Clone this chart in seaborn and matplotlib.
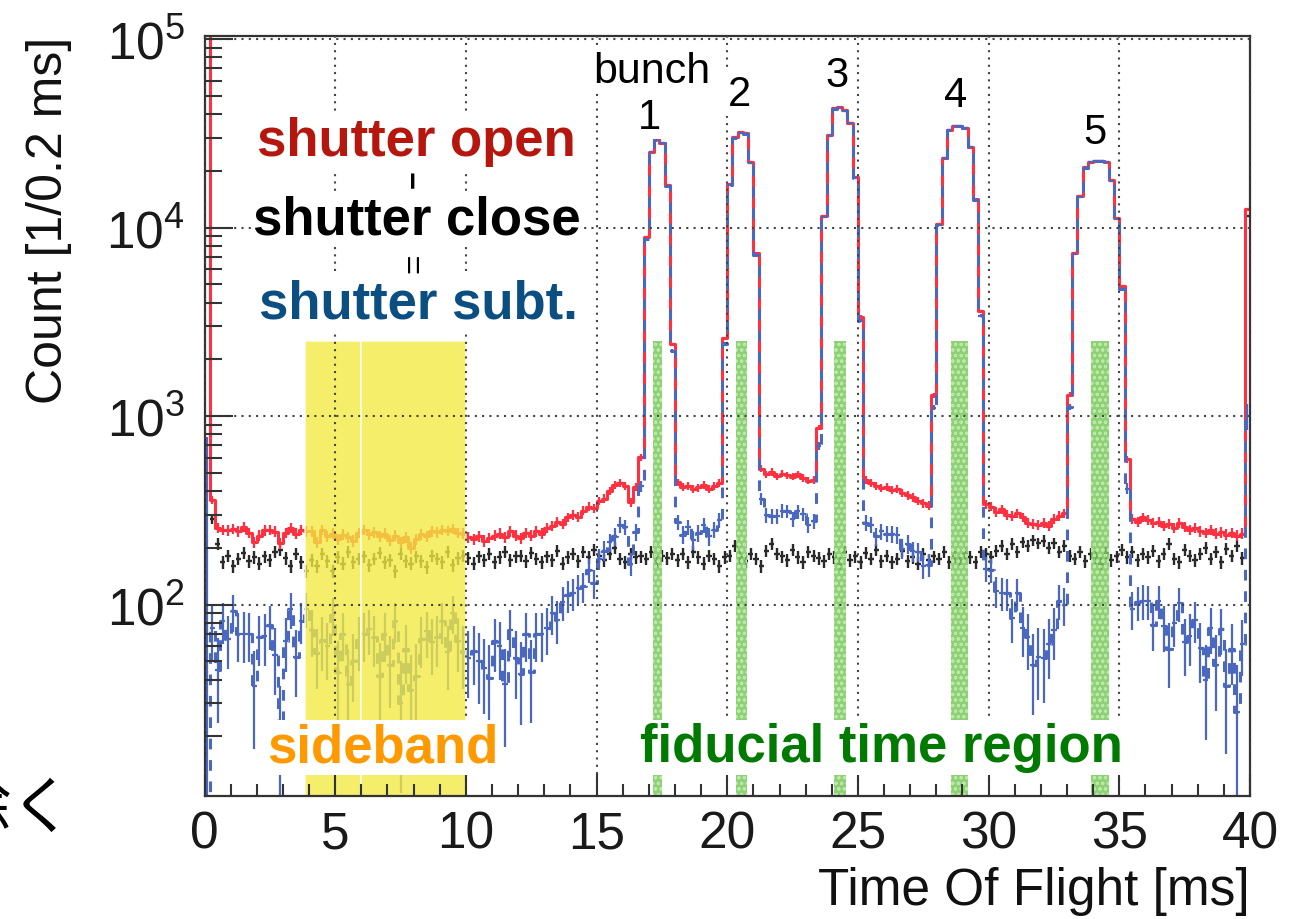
import numpy as np
import pandas as pd
import matplotlib
matplotlib.use("Agg")
import matplotlib.pyplot as plt
from matplotlib.patches import Rectangle
from matplotlib.ticker import FixedLocator, MultipleLocator, LogFormatterSciNotation, NullFormatter
import seaborn as sns

# -----------------------
# data: counts per 0.2 ms bin (one row = 2 ms)
# -----------------------
bin_width = 0.2

shutter_open = [
    300000, 360, 255, 250, 248, 252, 245, 258, 240, 215,
    232, 248, 250, 244, 212, 240, 255, 238, 250, 245,
    245, 215, 250, 230, 238, 222, 235, 228, 218, 240,
    250, 236, 242, 230, 238, 220, 232, 215, 228, 200,
    222, 236, 230, 245, 242, 250, 246, 252, 240, 238,
    228, 222, 230, 218, 226, 232, 238, 228, 245, 232,
    225, 240, 232, 245, 238, 255, 262, 275, 268, 290,
    300, 292, 315, 330, 325, 355, 365, 400, 430, 440,
    425, 350, 420, 605, 8900, 25300, 29500, 28200, 16800, 2400,
    445, 420, 425, 410, 418, 430, 412, 425, 440, 2590,
    16950, 30200, 32100, 31700, 22200, 7300, 525, 490, 505, 480,
    495, 485, 478, 490, 470, 455, 460, 870, 11600, 31000,
    43000, 43500, 42000, 36100, 18600, 3370, 460, 440, 425, 415,
    420, 405, 410, 390, 380, 370, 355, 345, 335, 1290,
    10500, 23500, 33100, 34600, 34600, 34000, 26900, 14200, 3600, 340,
    330, 310, 320, 300, 295, 305, 290, 272, 268, 265,
    270, 262, 285, 295, 305, 1300, 7380, 14700, 21000, 22400,
    22700, 22700, 22400, 17800, 11300, 4900, 590, 285, 275, 290,
    282, 270, 275, 262, 268, 255, 270, 258, 250, 255,
    245, 240, 250, 238, 242, 235, 240, 232, 238, 12600,
]

shutter_close = [
    300000, 285, 210, 168, 182, 160, 175, 188, 170, 178,
    165, 180, 172, 190, 195, 176, 160, 185, 168, 150,
    172, 160, 185, 170, 150, 178, 165, 190, 168, 175,
    180, 162, 175, 188, 168, 172, 150, 185, 170, 165,
    180, 170, 158, 182, 175, 168, 190, 162, 176, 182,
    176, 165, 180, 172, 185, 168, 178, 190, 172, 180,
    182, 170, 188, 175, 168, 180, 172, 192, 165, 178,
    185, 170, 190, 178, 195, 180, 172, 186, 200, 175,
    168, 185, 178, 180, 175, 190, 170, 182, 176, 185,
    172, 185, 168, 190, 178, 165, 182, 175, 160, 178,
    182, 205, 178, 170, 186, 175, 160, 192, 210, 185,
    180, 172, 195, 178, 168, 190, 182, 176, 170, 185,
    178, 165, 190, 172, 180, 168, 188, 175, 195, 170,
    182, 168, 175, 192, 170, 178, 165, 185, 172, 180,
    175, 190, 168, 180, 172, 185, 178, 168, 190, 185,
    178, 192, 205, 185, 210, 190, 215, 205, 220, 212,
    218, 200, 212, 190, 205, 182, 175, 190, 170, 185,
    178, 165, 188, 172, 180, 195, 178, 190, 172, 185,
    178, 192, 170, 185, 210, 175, 168, 195, 182, 172,
    186, 200, 175, 190, 168, 198, 182, 205, 176, 11600,
]

sideband_ranges = [(3.85, 6.0), (6.0, 10.0)]
fiducial_ranges = [(17.15, 17.5), (20.33, 20.74), (24.08, 24.55), (28.56, 29.2), (33.9, 34.6)]
band_top = 2500

bunch_numbers = ["1", "2", "3", "4", "5"]
bunch_label_x = [17.04, 20.45, 24.2, 28.72, 34.07]
bunch_label_y = [33800, 44900, 56300, 44300, 28000]

RED = "#ff3040"
BLUE = "#4a68c0"
BLACK = "#2a2a2a"

# derived
edges = list(np.arange(len(shutter_open) + 1) * bin_width)
df = pd.DataFrame({"t": np.arange(len(shutter_open)) * bin_width + bin_width / 2,
                   "open": np.array(shutter_open, dtype=float),
                   "close": np.array(shutter_close, dtype=float)})
df["subt"] = df["open"] - df["close"]

# -----------------------
# style
# -----------------------
sns.set_style("ticks")
plt.rcParams["font.family"] = ["Liberation Sans", "DejaVu Sans"]
plt.rcParams["mathtext.default"] = "regular"
plt.rcParams["hatch.linewidth"] = 0.8

fig = plt.figure(figsize=(12.91, 9.2), dpi=100)
ax = fig.add_axes([204.5 / 1291, 1 - 797 / 920, (1250 - 204.5) / 1291, (797 - 37) / 920])

# -----------------------
# histograms
# -----------------------
ax.errorbar(df["t"], df["close"], xerr=bin_width / 2, yerr=np.sqrt(df["close"]),
            fmt="none", ecolor=BLACK, elinewidth=1.7, capsize=0, zorder=2.0)

sns.histplot(data=df, x="t", weights="open", bins=edges, element="step", fill=False,
             color=RED, linewidth=2.2, ax=ax, zorder=2.02)
ax.errorbar(df["t"], df["open"], xerr=bin_width / 2, yerr=np.sqrt(df["open"]),
            fmt="none", ecolor=RED, elinewidth=1.6, capsize=0, zorder=2.03)

sns.histplot(data=df, x="t", weights="subt", bins=edges, element="step", fill=False,
             color=BLUE, linewidth=2.2, linestyle=(0, (3.5, 3.5)), ax=ax, zorder=2.05)
ax.errorbar(df["t"], df["subt"], xerr=bin_width / 2, yerr=np.sqrt(df["open"] + df["close"]),
            fmt="none", ecolor=BLUE, elinewidth=1.6, capsize=0, zorder=2.06)

ax.set_yscale("log")
ax.set_xlim(0, 40)
ax.set_ylim(9.64, 1.04e5)

# -----------------------
# sideband / fiducial bands
# -----------------------
for x0, x1 in sideband_ranges:
    ax.add_patch(Rectangle((x0, 1), x1 - x0, band_top - 1, facecolor="#f2ea40",
                           alpha=0.78, edgecolor="white", linewidth=1.2, zorder=2.2))
for x0, x1 in fiducial_ranges:
    ax.add_patch(Rectangle((x0, 1), x1 - x0, band_top - 1, facecolor="#78c95a",
                           alpha=0.85, edgecolor="#c6ecb4", hatch="ooo", linewidth=0,
                           zorder=2.2))

# -----------------------
# axes, ticks, grid
# -----------------------
ax.set_axisbelow(False)
ax.xaxis.set_major_locator(MultipleLocator(5))
ax.xaxis.set_minor_locator(MultipleLocator(1))
ax.yaxis.set_major_locator(FixedLocator([1e2, 1e3, 1e4, 1e5]))
ax.yaxis.set_minor_locator(FixedLocator([k * 10 ** d for d in range(1, 5) for k in range(2, 10)]))
ax.yaxis.set_major_formatter(LogFormatterSciNotation())
ax.yaxis.set_minor_formatter(NullFormatter())

ax.tick_params(which="both", bottom=True, left=True, top=False, right=False,
               direction="in", color="#333333")
ax.tick_params(axis="x", which="major", length=16, width=1.5,
               labelsize=37, pad=10, labelcolor="#1a1a1a")
ax.tick_params(axis="x", which="minor", length=9, width=1.5)
ax.tick_params(axis="y", which="major", length=20, width=1.5,
               labelsize=37, pad=14, labelcolor="#1a1a1a")
ax.tick_params(axis="y", which="minor", length=12, width=1.5)

ax.grid(True, which="major", color="#444444", linestyle=(0, (1, 2.5)), linewidth=1.5)
for s in ax.spines.values():
    s.set_linewidth(1.6)
    s.set_color("#333333")

ax.set_xlabel("Time Of Flight [ms]", fontsize=37, loc="right", color="#111111")
ax.xaxis.set_label_coords(1.0, -0.092)
ax.set_ylabel("Count [1/0.2 ms]", fontsize=36, loc="top", color="#111111")
ax.yaxis.set_label_coords(-0.127, 1.0)

# -----------------------
# annotations
# -----------------------
box = dict(boxstyle="square,pad=0.05", facecolor="white", edgecolor="none")


def note(x, y, s, **kw):
    ax.text(x, y, s, ha="center", va="baseline", zorder=10, bbox=box, **kw)


note(8.11, 24300, "shutter open", color="#b5170e", fontsize=38, fontweight="bold")
note(8.13, 9290, "shutter close", color="black", fontsize=38, fontweight="bold")
note(8.17, 3340, "shutter subt.", color="#0b4f82", fontsize=38, fontweight="bold")
ax.text(8.03, 18300, "\u2212", rotation=90, ha="center", va="center", fontsize=22,
        fontweight="bold", color="black", zorder=10)
ax.text(8.07, 6580, "=", rotation=90, ha="center", va="center", fontsize=24,
        color="black", zorder=10)

note(17.1, 59600, "bunch", color="black", fontsize=31)
for s, x, y in zip(bunch_numbers, bunch_label_x, bunch_label_y):
    note(x, y, s, color="black", fontsize=30)

note(6.81, 14.7, "sideband", color="#ff9900", fontsize=38, fontweight="bold")
note(25.88, 14.7, "fiducial time region", color="#007a00", fontsize=38, fontweight="bold")

# partly cut-off slide text at the left edge (as in the source image)
fig.text(74 / 1291, 1 - 810 / 920, "除く", ha="right", va="center", fontsize=45,
         family=["Noto Sans CJK JP"], color="black")

fig.savefig("out.png", dpi=100, facecolor="white")
